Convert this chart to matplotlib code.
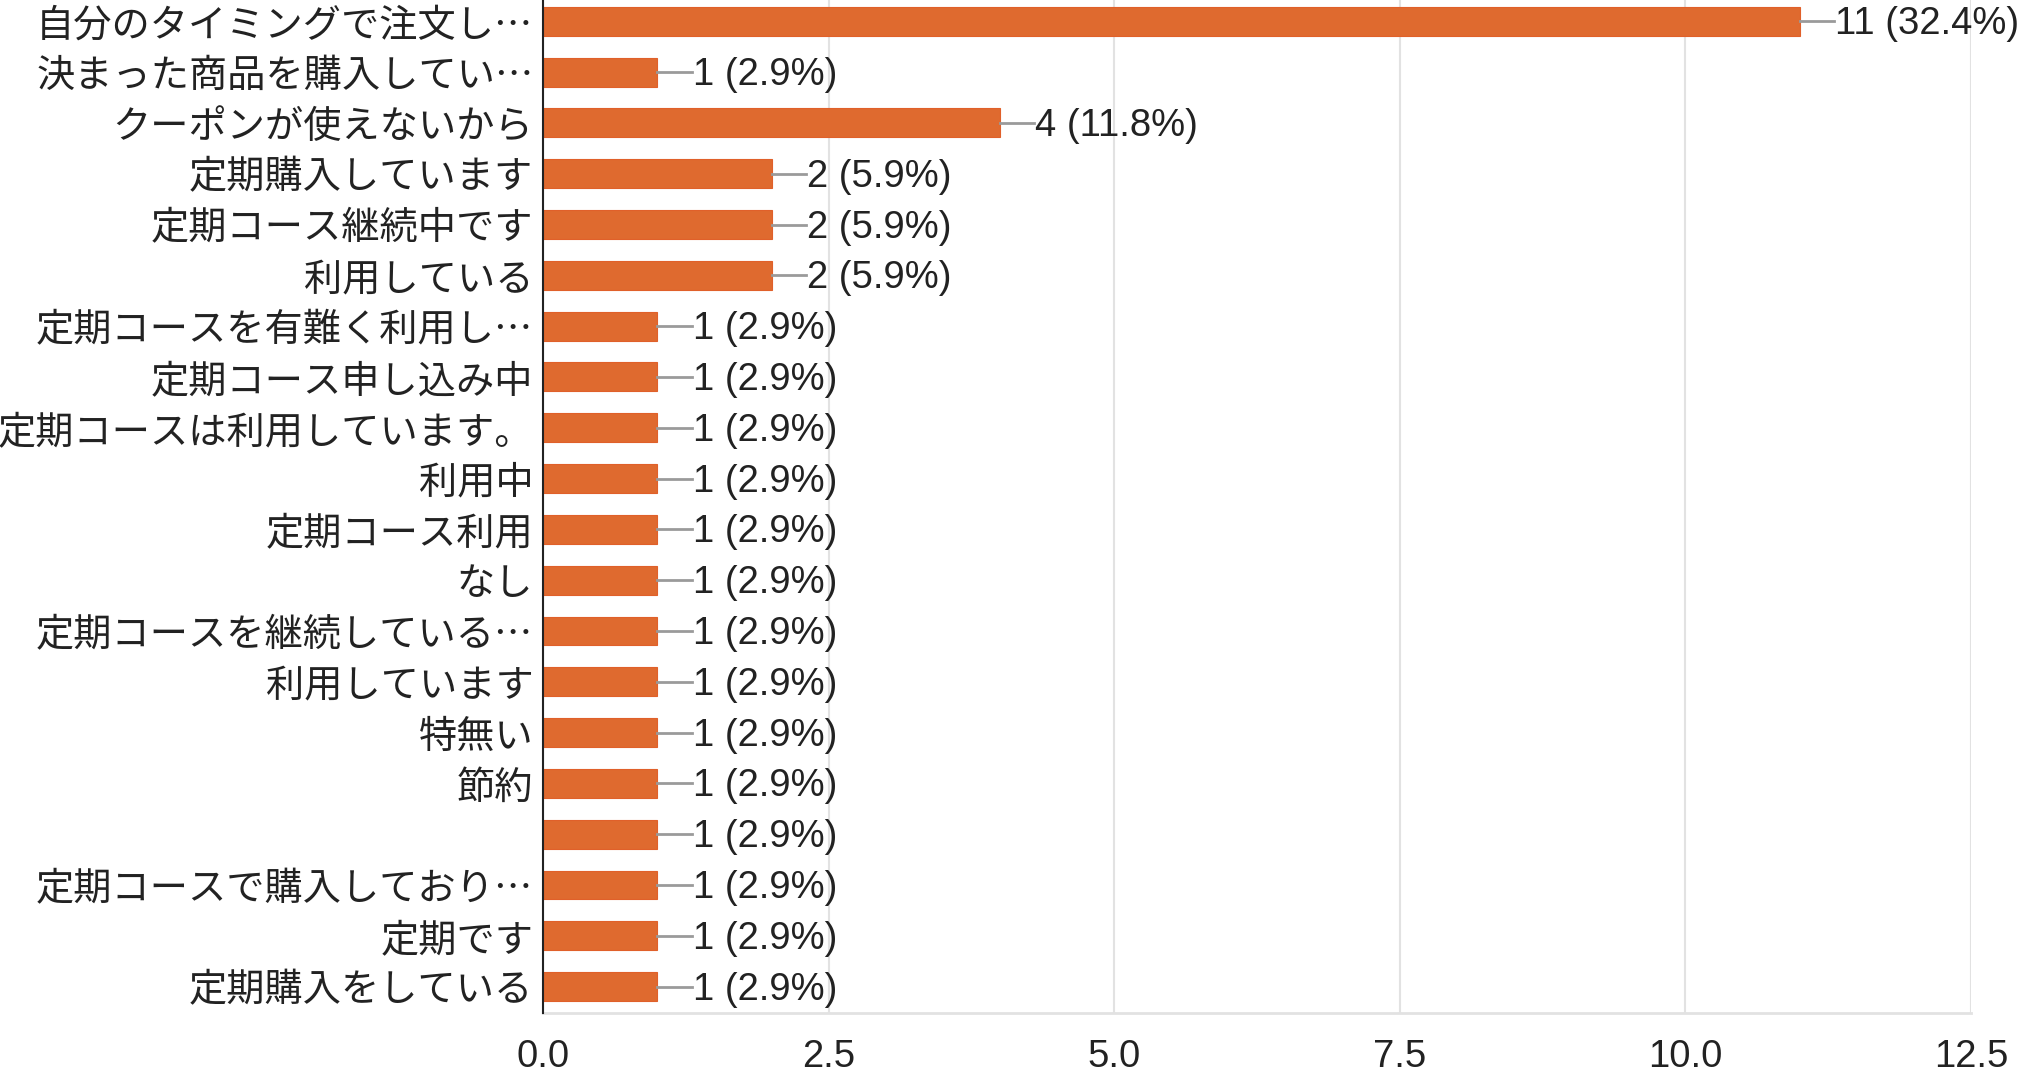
import matplotlib
matplotlib.use('Agg')
import matplotlib.pyplot as plt

# data
labels = ['自分のタイミングで注文し…', '決まった商品を購入してい…', 'クーポンが使えないから',
          '定期購入しています', '定期コース継続中です', '利用している',
          '定期コースを有難く利用し…', '定期コース申し込み中', '定期コースは利用しています。',
          '利用中', '定期コース利用', 'なし', '定期コースを継続している…',
          '利用しています', '特無い', '節約', '', '定期コースで購入しており…',
          '定期です', '定期購入をしている']
counts = [11, 1, 4, 2, 2, 2, 1, 1, 1, 1, 1, 1, 1, 1, 1, 1, 1, 1, 1, 1]
total = 34
xticks = [0.0, 2.5, 5.0, 7.5, 10.0, 12.5]

bar_color = '#DF6A2F'
text_color = '#222222'

fig = plt.figure(figsize=(20.37, 10.77), dpi=100)
ax = fig.add_axes([0.2666, 0.0594, 0.701, 0.9406])

y = list(range(len(labels)))
ax.barh(y, counts, height=0.57, color=bar_color, edgecolor='#E0602A', linewidth=0.8, zorder=3)

# value labels with a short connector line
for i, c in enumerate(counts):
    ax.plot([c, c + 0.3], [i, i], color='#9a9a9a', lw=2, zorder=3, clip_on=False)
    ax.text(c + 0.31, i + 0.06, f'{c} ({c / total * 100:.1f}%)', va='center', ha='left',
            fontsize=27.5, family=['Liberation Sans', 'DejaVu Sans'], color=text_color,
            clip_on=False)

ax.set_xlim(0, 12.5)
ax.set_ylim(19.52, -0.42)
ax.set_xticks(xticks)
ax.set_xticklabels([f'{t:.1f}' for t in xticks], family=['Liberation Sans', 'DejaVu Sans'],
                   fontsize=27.5, color=text_color)
ax.set_yticks(y)
ax.set_yticklabels(labels, family=['Noto Sans CJK JP', 'DejaVu Sans'], fontsize=27.5,
                   color=text_color)
ax.tick_params(axis='x', length=0, pad=19)
ax.tick_params(axis='y', length=0, pad=7)

ax.grid(axis='x', color='#e2e2e2', lw=1.5, zorder=0)
for s in ['top', 'right']:
    ax.spines[s].set_visible(False)
ax.spines['bottom'].set_color('#e2e2e2')
ax.spines['bottom'].set_linewidth(2)
ax.spines['left'].set_color('#222222')
ax.spines['left'].set_linewidth(1.5)
ax.spines['left'].set_zorder(4)

fig.savefig('out.png', dpi=100)
